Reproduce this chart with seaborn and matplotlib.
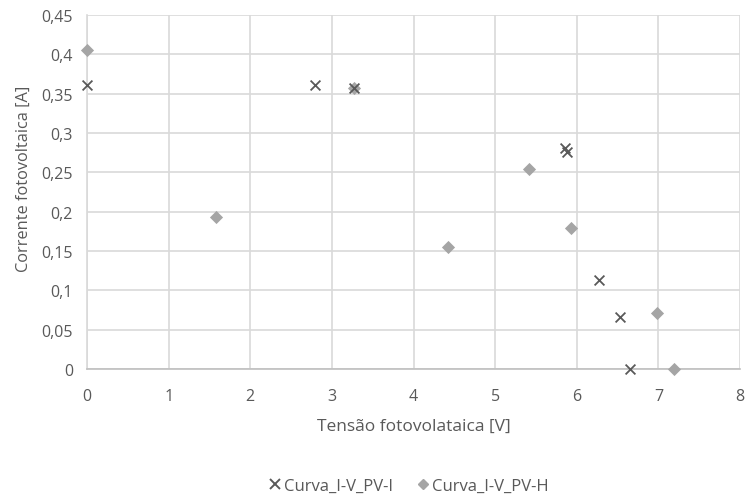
import matplotlib
matplotlib.use("Agg")
import matplotlib.pyplot as plt
import seaborn as sns
import pandas as pd
from matplotlib.ticker import FuncFormatter
from matplotlib.lines import Line2D

# Data
series_names = ["Curva_I-V_PV-I", "Curva_I-V_PV-H"]
v_pv_i = [0.0, 2.79, 3.27, 5.86, 5.88, 6.27, 6.53, 6.65]
i_pv_i = [0.361, 0.361, 0.357, 0.281, 0.276, 0.113, 0.066, 0.0]
v_pv_h = [0.0, 1.58, 3.27, 4.42, 5.42, 5.93, 6.98, 7.19]
i_pv_h = [0.405, 0.193, 0.357, 0.155, 0.254, 0.179, 0.071, 0.0]
x_ticks = [0, 1, 2, 3, 4, 5, 6, 7, 8]
y_ticks = [0, 0.05, 0.1, 0.15, 0.2, 0.25, 0.3, 0.35, 0.4, 0.45]

df_i = pd.DataFrame({"V": v_pv_i, "I": i_pv_i})
df_h = pd.DataFrame({"V": v_pv_h, "I": i_pv_h})

sns.set_style("white")
plt.rcParams["font.family"] = ["Open Sans", "DejaVu Sans"]

fig = plt.figure(figsize=(7.47, 5.02), dpi=100)
ax = fig.add_axes([87/747, 1-370/502, (740-87)/747, (370-16)/502])

text_col = "#595959"
col_i = "#595959"
col_h = "#a5a5a5"

sns.scatterplot(data=df_h, x="V", y="I", color=col_h, marker="D", s=45,
                linewidth=0, ax=ax, zorder=3, clip_on=False)
sns.scatterplot(data=df_i, x="V", y="I", color=col_i, marker="x", s=50,
                linewidth=1.3, ax=ax, zorder=4, clip_on=False)

ax.set_xlim(0, 8)
ax.set_ylim(0, 0.45)
ax.set_xticks(x_ticks)
ax.set_yticks(y_ticks)
fmt = FuncFormatter(lambda v, p: ("%g" % round(v, 2)).replace(".", ","))
ax.xaxis.set_major_formatter(fmt)
ax.yaxis.set_major_formatter(fmt)
ax.grid(True, color="#d9d9d9", linewidth=1.2)
ax.set_axisbelow(True)
for s in ["top", "right"]:
    ax.spines[s].set_visible(False)
ax.spines["left"].set_color("#d9d9d9")
ax.spines["bottom"].set_color("#bfbfbf")
ax.spines["left"].set_linewidth(1.2)
ax.spines["bottom"].set_linewidth(1.2)
ax.tick_params(axis="both", length=0, colors=text_col, labelsize=11.5)
ax.tick_params(axis="x", pad=14)
ax.tick_params(axis="y", pad=10)
ax.set_xlabel("Tensão fotovolataica [V]", color=text_col, fontsize=12.5, labelpad=10)
ax.set_ylabel("Corrente fotovoltaica [A]", color=text_col, fontsize=11.8)
ax.yaxis.set_label_coords(-0.085, 0.54)

handles = [
    Line2D([], [], linestyle="none", marker="x", color=col_i,
           markersize=6.5, markeredgewidth=1.4),
    Line2D([], [], linestyle="none", marker="D", color=col_h,
           markersize=5.5),
]
fig.legend(handles, series_names, loc="center", bbox_to_anchor=(408/747, 1-487/502),
           ncol=2, frameon=False, fontsize=12, labelcolor=text_col,
           handletextpad=0.05, columnspacing=1.4, handlelength=0.9)

fig.savefig("out.png", dpi=100)
